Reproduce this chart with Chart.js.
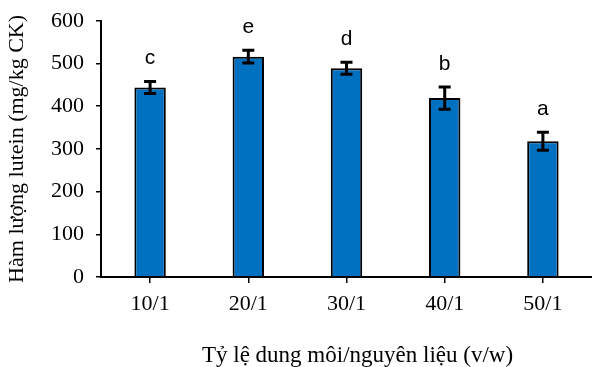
<!DOCTYPE html>
<html>
<head>
<meta charset="utf-8">
<script src="https://cdn.jsdelivr.net/npm/chart.js@4/dist/chart.umd.min.js"></script>
<style>
  html, body { margin: 0; padding: 0; background: #fff; }
  #wrap { width: 592px; height: 367px; }
</style>
</head>
<body>
<div id="wrap"><canvas id="c" width="592" height="367"></canvas></div>
<script>
// Solvent / material ratio groups
const ratios = ['10/1', '20/1', '30/1', '40/1', '50/1'];
// Lutein content (mg/kg dry weight)
const lutein = [444, 516, 489, 419, 318];
// Standard deviation for each group
const sd = [14, 15, 14, 26, 21];
// Significance letters
const groups = ['c', 'e', 'd', 'b', 'a'];
// Y axis ticks
const yMin = 0, yMax = 600, yStep = 100;

const serif = '"Liberation Serif", "Times New Roman", serif';
const sans = '"Liberation Sans", Arial, sans-serif';

const errorBars = {
  id: 'errorBars',
  afterDatasetsDraw(chart) {
    const { ctx } = chart;
    const y = chart.scales.y;
    const meta = chart.getDatasetMeta(0);
    ctx.save();
    meta.data.forEach((bar, i) => {
      const x = bar.x;
      const top = y.getPixelForValue(lutein[i] + sd[i]);
      const bot = y.getPixelForValue(lutein[i] - sd[i]);
      ctx.strokeStyle = '#000';
      ctx.lineWidth = 3;
      ctx.beginPath();
      ctx.moveTo(x, top); ctx.lineTo(x, bot);
      ctx.moveTo(x - 6, top); ctx.lineTo(x + 6, top);
      ctx.moveTo(x - 6, bot); ctx.lineTo(x + 6, bot);
      ctx.stroke();
      ctx.fillStyle = '#000';
      ctx.font = '21px ' + sans;
      ctx.textAlign = 'center';
      ctx.textBaseline = 'alphabetic';
      ctx.fillText(groups[i], x, top - 17);
    });
    // x axis title
    const area = chart.chartArea;
    ctx.font = '23px ' + serif;
    ctx.textAlign = 'center';
    ctx.textBaseline = 'middle';
    ctx.fillText('Tỷ lệ dung môi/nguyên liệu (v/w)', (area.left + area.right) / 2 + 11, 356);
    ctx.restore();
  }
};

new Chart(document.getElementById('c'), {
  type: 'bar',
  data: {
    labels: ratios,
    datasets: [{
      data: lutein,
      backgroundColor: '#0070C0',
      borderColor: '#000',
      borderWidth: 2,
      categoryPercentage: 1,
      barPercentage: 0.32
    }]
  },
  options: {
    responsive: false,
    animation: false,
    layout: { padding: { top: 0, right: 0, left: 4, bottom: 0 } },
    plugins: { legend: { display: false }, tooltip: { enabled: false } },
    scales: {
      x: {
        grid: { display: true, drawOnChartArea: false, offset: false, color: '#000', lineWidth: 1.5, tickLength: 6 },
        border: { color: '#000', width: 2 },
        ticks: { color: '#000', font: { family: serif, size: 22 }, padding: 8 },
        afterFit(s) { s.height = 90; }
      },
      y: {
        min: yMin, max: yMax,
        grid: { display: true, drawOnChartArea: false, color: '#000', lineWidth: 1.5, tickLength: 5 },
        border: { color: '#000', width: 2 },
        ticks: { stepSize: yStep, color: '#000', font: { family: serif, size: 22, lineHeight: 0.8 }, padding: 12 },
        title: { display: true, text: 'Hàm lượng lutein (mg/kg CK)', color: '#000', font: { family: serif, size: 22 }, padding: 0 },
        afterFit(s) { s.width = 97; }
      }
    }
  },
  plugins: [errorBars]
});
</script>
</body>
</html>
